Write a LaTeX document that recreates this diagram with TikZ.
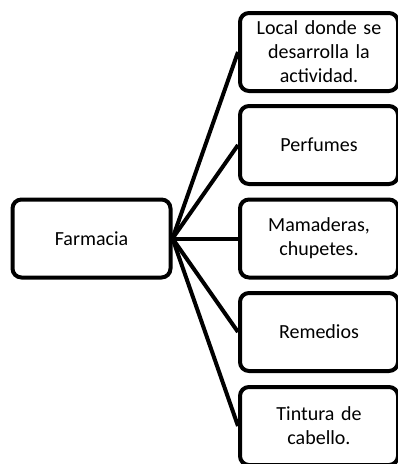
\documentclass[tikz,border=0pt]{standalone}
\usepackage{fontspec}
\setmainfont{Carlito}
\usepackage{tikz}

\begin{document}
\begin{tikzpicture}[x=1pt,y=-1pt,
    caja/.style={draw,line width=4pt,rounded corners=9pt,
        minimum width=158pt,minimum height=78pt,
        text width=150pt,align=center,
        font=\fontsize{20}{24}\selectfont},
    rama/.style={line width=4pt}]
        \useasboundingbox (0,0) rectangle (398,464);
        \node[caja] (farmacia) at (91.5,238.5) {Farmacia};
        \node[caja] (local) at (319,52) {Local donde se\\desarrolla la\\actividad.};
        \node[caja] (perfumes) at (319,145) {Perfumes};
        \node[caja] (mamaderas) at (319,238.5) {Mamaderas,\\chupetes.};
        \node[caja] (remedios) at (319,332) {Remedios};
        \node[caja] (tintura) at (319,426) {Tintura de\\cabello.};
        \foreach \n in {local,perfumes,mamaderas,remedios,tintura}
            \draw[rama] (farmacia.east) -- (\n.west);
    \end{tikzpicture}
\end{document}
